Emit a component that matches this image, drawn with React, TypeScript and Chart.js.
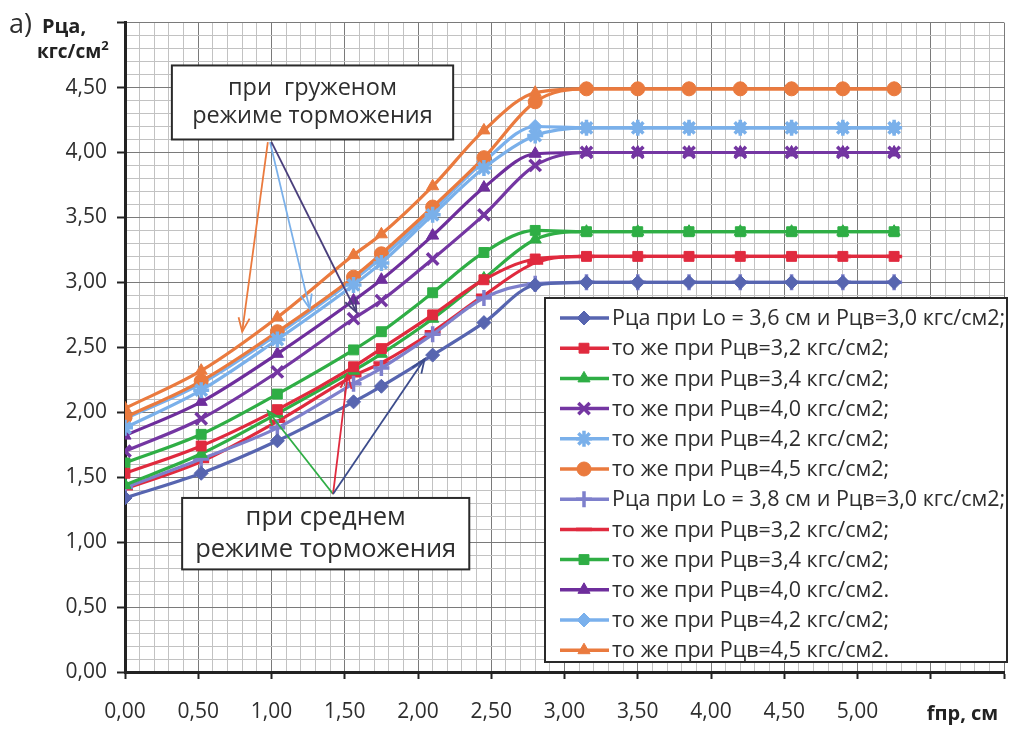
import React, { useEffect, useRef } from 'react';
import { Chart, registerables } from 'chart.js';
import { drawPoint } from 'chart.js/helpers';

Chart.register(...registerables);

// ---------- DATA ----------
const X_VALUES = [0, 0.52, 1.04, 1.56, 1.75, 2.10, 2.45, 2.80, 3.15, 3.50, 3.85, 4.20, 4.55, 4.90, 5.25];

// Lo = 3.6 cm
const L36_P30 = [1.34, 1.53, 1.78, 2.08, 2.20, 2.44, 2.69, 2.98, 3.00, 3.00, 3.00, 3.00, 3.00, 3.00, 3.00];
const L36_P32 = [1.53, 1.74, 2.02, 2.35, 2.49, 2.75, 3.02, 3.18, 3.20, 3.20, 3.20, 3.20, 3.20, 3.20, 3.20];
const L36_P34 = [1.44, 1.68, 1.99, 2.32, 2.45, 2.72, 3.03, 3.33, 3.39, 3.39, 3.39, 3.39, 3.39, 3.39, 3.39];
const L36_P40 = [1.70, 1.95, 2.31, 2.72, 2.86, 3.18, 3.52, 3.90, 4.00, 4.00, 4.00, 4.00, 4.00, 4.00, 4.00];
const L36_P42 = [1.88, 2.17, 2.56, 2.98, 3.15, 3.52, 3.88, 4.13, 4.19, 4.19, 4.19, 4.19, 4.19, 4.19, 4.19];
const L36_P45 = [1.96, 2.24, 2.62, 3.04, 3.22, 3.58, 3.96, 4.39, 4.49, 4.49, 4.49, 4.49, 4.49, 4.49, 4.49];
// Lo = 3.8 cm
const L38_P30 = [1.42, 1.64, 1.88, 2.22, 2.34, 2.60, 2.88, 2.99, 3.00, 3.00, 3.00, 3.00, 3.00, 3.00, 3.00];
const L38_P32 = [1.41, 1.62, 1.93, 2.28, 2.38, 2.62, 2.90, 3.15, 3.20, 3.20, 3.20, 3.20, 3.20, 3.20, 3.20];
const L38_P34 = [1.61, 1.83, 2.14, 2.48, 2.62, 2.92, 3.23, 3.40, 3.39, 3.39, 3.39, 3.39, 3.39, 3.39, 3.39];
const L38_P40 = [1.82, 2.08, 2.45, 2.86, 3.02, 3.36, 3.73, 3.99, 4.00, 4.00, 4.00, 4.00, 4.00, 4.00, 4.00];
const L38_P42 = [1.95, 2.22, 2.60, 3.02, 3.19, 3.55, 3.93, 4.20, 4.19, 4.19, 4.19, 4.19, 4.19, 4.19, 4.19];
const L38_P45 = [2.03, 2.32, 2.73, 3.21, 3.37, 3.74, 4.17, 4.46, 4.49, 4.49, 4.49, 4.49, 4.49, 4.49, 4.49];

const SERIES_VALUES = [L36_P30, L36_P32, L36_P34, L36_P40, L36_P42, L36_P45, L38_P30, L38_P32, L38_P34, L38_P40, L38_P42, L38_P45];

const SERIES_LABELS = [
  'Рца при Lo = 3,6 см и Рцв=3,0 кгс/см2;',
  'то же при Рцв=3,2 кгс/см2;',
  'то же при Рцв=3,4 кгс/см2;',
  'то же при Рцв=4,0 кгс/см2;',
  'то же при Рцв=4,2 кгс/см2;',
  'то же при Рцв=4,5 кгс/см2;',
  'Рца при Lo = 3,8 см и Рцв=3,0 кгс/см2;',
  'то же при Рцв=3,2 кгс/см2;',
  'то же при Рцв=3,4 кгс/см2;',
  'то же при Рцв=4,0 кгс/см2.',
  'то же при Рцв=4,2 кгс/см2;',
  'то же при Рцв=4,5 кгс/см2.',
];

const SERIES_COLORS = [
  '#5765B0', '#E02A3E', '#2FAE45', '#7436A2', '#7AB0EA', '#EA7A3E',
  '#7E80CC', '#E02A3E', '#2FAE45', '#6E2E9C', '#7AB0EC', '#EA7A3E',
];

const SERIES_MARKERS = [
  'rectRot', 'rect', 'triangle', 'crossRot', 'star', 'circle',
  'cross', 'line', 'rect', 'triangle', 'rectRot', 'triangle',
];

const Y_MIN = 0;
const Y_MAX = 5;
const X_MIN = 0;
const X_MAX = 6;
const MINOR_STEP = 0.1;
const LAST_X_LABEL = 5.0;
const LAST_Y_LABEL = 4.5;

const TITLE_PREFIX = 'а)';
const TITLE_MAIN = 'Рца,';
const TITLE_UNIT = 'кгс/см';
const TITLE_SUP = '2';
const X_TITLE = 'fпр, см';

const NOTE_LOADED = ['при  груженом', 'режиме торможения'];
const NOTE_MEDIUM = ['при среднем', 'режиме торможения'];

const FONT = '"Open Sans", "DejaVu Sans", sans-serif';
const TEXT_COLOR = '#2e2e2e';

const isMajor = (v: number) => Math.abs(v * 2 - Math.round(v * 2)) < 1e-6;
const fmt = (v: number) => v.toFixed(2).replace('.', ',');
const STROKE_ONLY = ['crossRot', 'star', 'cross', 'line'];

function drawArrow(ctx: CanvasRenderingContext2D, x1: number, y1: number, x2: number, y2: number, color: string) {
  ctx.save();
  ctx.strokeStyle = color;
  ctx.lineWidth = 1.8;
  ctx.beginPath();
  ctx.moveTo(x1, y1);
  ctx.lineTo(x2, y2);
  ctx.stroke();
  const ang = Math.atan2(y2 - y1, x2 - x1);
  const len = 15;
  const spread = 0.38;
  ctx.beginPath();
  ctx.moveTo(x2 - len * Math.cos(ang - spread), y2 - len * Math.sin(ang - spread));
  ctx.lineTo(x2, y2);
  ctx.lineTo(x2 - len * Math.cos(ang + spread), y2 - len * Math.sin(ang + spread));
  ctx.stroke();
  ctx.restore();
}

const overlayPlugin = {
  id: 'overlay',
  beforeDraw(chart: any) {
    const ctx = chart.ctx;
    ctx.save();
    ctx.fillStyle = '#ffffff';
    ctx.fillRect(0, 0, chart.width, chart.height);
    ctx.restore();
  },
  afterDraw(chart: any) {
    const ctx: CanvasRenderingContext2D = chart.ctx;
    const xs = chart.scales.x;
    const ys = chart.scales.y;
    const px = (v: number) => xs.getPixelForValue(v);
    const py = (v: number) => ys.getPixelForValue(v);

    const arrows: [number, number, number, number, string][] = [
      [0.975, 4.08, 0.80, 2.62, '#EA7A3E'],
      [0.99, 4.08, 1.26, 2.80, '#7AB0EA'],
      [1.0, 4.08, 1.58, 2.77, '#4A3F7C'],
      [1.42, 1.37, 0.975, 2.01, '#2FAE45'],
      [1.42, 1.37, 1.52, 2.29, '#E02A3E'],
      [1.42, 1.37, 2.045, 2.41, '#3C4C8C'],
    ];
    arrows.forEach(([a, b, c, d, col]) => drawArrow(ctx, px(a), py(b), px(c), py(d), col));

    const boxes: { x0: number; x1: number; y0: number; y1: number; lines: string[]; size: number; gap: number }[] = [
      { x0: 0.32, x1: 2.24, y0: 4.67, y1: 4.10, lines: NOTE_LOADED, size: 23.5, gap: 28 },
      { x0: 0.39, x1: 2.35, y0: 1.34, y1: 0.79, lines: NOTE_MEDIUM, size: 25.5, gap: 32 },
    ];
    boxes.forEach((b) => {
      const l = px(b.x0), r = px(b.x1), t = py(b.y0), bt = py(b.y1);
      ctx.save();
      ctx.fillStyle = '#ffffff';
      ctx.fillRect(l, t, r - l, bt - t);
      ctx.strokeStyle = '#2a2a2a';
      ctx.lineWidth = 2;
      ctx.strokeRect(l, t, r - l, bt - t);
      ctx.fillStyle = TEXT_COLOR;
      ctx.font = `${b.size}px ${FONT}`;
      ctx.textAlign = 'center';
      ctx.textBaseline = 'middle';
      const cx = (l + r) / 2;
      const cy = (t + bt) / 2;
      ctx.fillText(b.lines[0], cx, cy - b.gap / 2);
      ctx.fillText(b.lines[1], cx, cy + b.gap / 2);
      ctx.restore();
    });

    // legend
    const lx = 545, ly = 298, lw = 462, lh = 364;
    ctx.save();
    ctx.fillStyle = '#ffffff';
    ctx.fillRect(lx, ly, lw, lh);
    ctx.strokeStyle = '#2a2a2a';
    ctx.lineWidth = 2;
    ctx.strokeRect(lx, ly, lw, lh);
    const rowH = 30.2;
    chart.data.datasets.forEach((ds: any, i: number) => {
      const y = ly + 20 + i * rowH;
      ctx.strokeStyle = ds.borderColor;
      ctx.lineWidth = 3.5;
      ctx.beginPath();
      ctx.moveTo(lx + 15, y);
      ctx.lineTo(lx + 64, y);
      ctx.stroke();
      ctx.fillStyle = ds.pointBackgroundColor;
      ctx.strokeStyle = ds.pointBorderColor;
      ctx.lineWidth = ds.pointBorderWidth;
      drawPoint(ctx, { pointStyle: ds.pointStyle, rotation: 0, radius: ds.pointRadius, borderWidth: ds.pointBorderWidth }, lx + 39, y);
      ctx.fillStyle = TEXT_COLOR;
      ctx.font = `21.5px ${FONT}`;
      ctx.textAlign = 'left';
      ctx.textBaseline = 'middle';
      ctx.fillText(ds.label, lx + 67, y + 1);
    });
    ctx.restore();

    // titles
    ctx.save();
    ctx.fillStyle = TEXT_COLOR;
    ctx.textBaseline = 'alphabetic';
    ctx.textAlign = 'left';
    ctx.font = `27px ${FONT}`;
    ctx.fillText(TITLE_PREFIX, 9, 33);
    ctx.fillStyle = '#222';
    ctx.font = `bold 20px ${FONT}`;
    ctx.fillText(TITLE_MAIN, 42, 33);
    ctx.font = `bold 19px ${FONT}`;
    ctx.fillText(TITLE_UNIT, 37, 58);
    const w = ctx.measureText(TITLE_UNIT).width;
    ctx.font = `bold 13px ${FONT}`;
    ctx.fillText(TITLE_SUP, 37 + w, 50);
    ctx.font = `bold 20px ${FONT}`;
    ctx.fillText(X_TITLE, px(5.5) - 4, 720);
    ctx.restore();
  },
};

export default function App() {
  const ref = useRef<HTMLCanvasElement>(null);
  useEffect(() => {
    document.body.style.margin = '0';
    const datasets = SERIES_VALUES.map((vals, i) => ({
      label: SERIES_LABELS[i],
      data: vals.map((v, j) => ({ x: X_VALUES[j], y: v })),
      borderColor: SERIES_COLORS[i],
      backgroundColor: SERIES_COLORS[i],
      pointBackgroundColor: SERIES_COLORS[i],
      pointBorderColor: SERIES_COLORS[i],
      pointStyle: SERIES_MARKERS[i],
      pointRadius: STROKE_ONLY.includes(SERIES_MARKERS[i]) ? 8 : 7,
      pointBorderWidth: STROKE_ONLY.includes(SERIES_MARKERS[i]) ? 3.5 : 1,
      borderWidth: 3.2,
      cubicInterpolationMode: 'monotone',
      fill: false,
    }));
    const chart = new Chart(ref.current!, {
      type: 'line',
      data: { datasets },
      plugins: [overlayPlugin],
      options: {
        animation: false,
        responsive: false,
        events: [],
        layout: { padding: { left: 0, right: 19, top: 19, bottom: 0 } },
        plugins: { legend: { display: false }, tooltip: { enabled: false } },
        scales: {
          x: {
            type: 'linear',
            min: X_MIN,
            max: X_MAX,
            afterFit: (s: any) => { s.height = 57; },
            border: { display: true, color: '#222', width: 3 },
            grid: {
              color: (c: any) => (isMajor(c.tick?.value ?? 0) ? '#7a7a7a' : '#c2c2c2'),
              lineWidth: 1,
              tickLength: 7,
              tickWidth: 2,
              tickColor: (c: any) => (isMajor(c.tick?.value ?? 0) ? '#222' : 'rgba(0,0,0,0)'),
            },
            ticks: {
              stepSize: MINOR_STEP,
              autoSkip: false,
              maxRotation: 0,
              padding: 20,
              color: TEXT_COLOR,
              font: { family: FONT, size: 21 },
              callback: (v: any) => (isMajor(Number(v)) && Number(v) <= LAST_X_LABEL + 1e-6 ? fmt(Number(v)) : ''),
            },
          },
          y: {
            type: 'linear',
            min: Y_MIN,
            max: Y_MAX,
            afterFit: (s: any) => { s.width = 125; },
            border: { display: true, color: '#222', width: 3 },
            grid: {
              color: (c: any) => (isMajor(c.tick?.value ?? 0) ? '#7a7a7a' : '#c2c2c2'),
              lineWidth: 1,
              tickLength: 8,
              tickWidth: 2,
              tickColor: (c: any) => (isMajor(c.tick?.value ?? 0) ? '#222' : 'rgba(0,0,0,0)'),
            },
            ticks: {
              stepSize: MINOR_STEP,
              autoSkip: false,
              padding: 10,
              color: TEXT_COLOR,
              font: { family: FONT, size: 21 },
              callback: (v: any) => (isMajor(Number(v)) && Number(v) <= LAST_Y_LABEL + 1e-6 ? fmt(Number(v)) : ''),
            },
          },
        },
      } as any,
    } as any);
    return () => chart.destroy();
  }, []);
  return (
    <div style={{ position: 'fixed', left: 0, top: 0, width: 1024, height: 729, background: '#fff' }}>
      <canvas ref={ref} width={1024} height={729} style={{ display: 'block' }} />
    </div>
  );
}
